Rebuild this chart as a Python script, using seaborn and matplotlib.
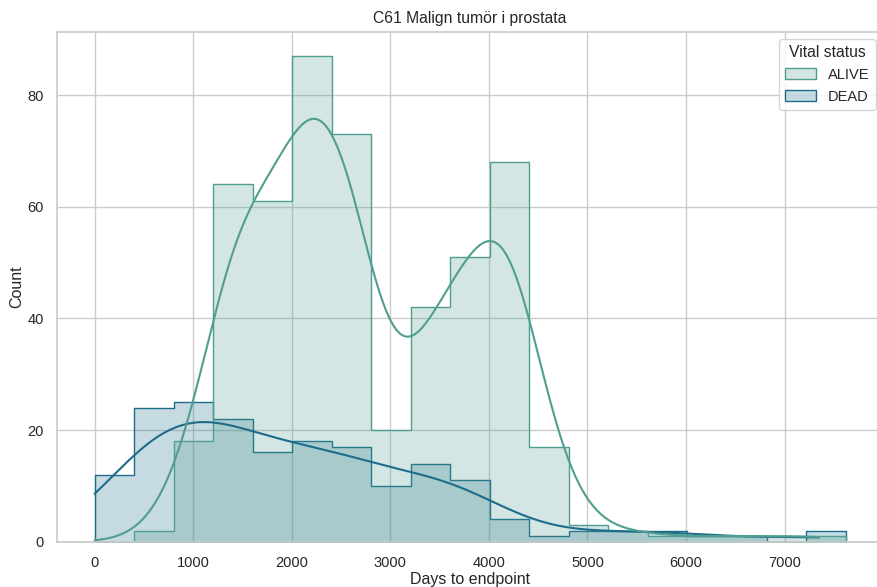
import numpy as np
import pandas as pd
import matplotlib
matplotlib.use("Agg")
import matplotlib.pyplot as plt
import seaborn as sns

# Bin edges (days) and counts
bin_edges = np.linspace(0, 7618, 20)
alive_counts = [0, 2, 18, 64, 61, 87, 73, 20, 42, 51, 68, 17, 3, 2, 1, 1, 1, 1, 1]
dead_counts = [12, 24, 25, 22, 16, 18, 17, 10, 14, 11, 4, 1, 2, 2, 2, 1, 1, 0, 2]
statuses = ["ALIVE", "DEAD"]

centers = (bin_edges[:-1] + bin_edges[1:]) / 2
days = np.concatenate([np.repeat(centers, alive_counts), np.repeat(centers, dead_counts)])
status = ["ALIVE"] * int(sum(alive_counts)) + ["DEAD"] * int(sum(dead_counts))
df = pd.DataFrame({"Days to endpoint": days, "Vital status": status})

sns.set_theme(style="whitegrid")
plt.rcParams["font.family"] = ["Liberation Sans", "DejaVu Sans"]

fig, ax = plt.subplots(figsize=(8.77, 5.87), dpi=100)
sns.histplot(
    data=df, x="Days to endpoint", hue="Vital status", hue_order=statuses,
    bins=bin_edges, element="step", kde=True, palette="crest",
    kde_kws={"cut": 1, "clip": (0, 7350)}, ax=ax,
)
ax.set_title("C61 Malign tumör i prostata", fontsize=11.3)
ax.set_xlabel("Days to endpoint", fontsize=11.5, labelpad=1.5)
ax.set_ylabel("Count", fontsize=11.5, labelpad=2.5)
ax.tick_params(labelsize=10.5)
ax.tick_params(axis="x", pad=4)
leg = ax.get_legend()
leg.set_loc("upper right")
leg.get_title().set_fontsize(11.3)
for t in leg.get_texts():
    t.set_fontsize(10.5)
ax.set_xticks(np.arange(0, 8000, 1000))
fig.subplots_adjust(left=0.065, right=1.007, top=0.946, bottom=0.0772)
fig.savefig("out.png", dpi=100)
